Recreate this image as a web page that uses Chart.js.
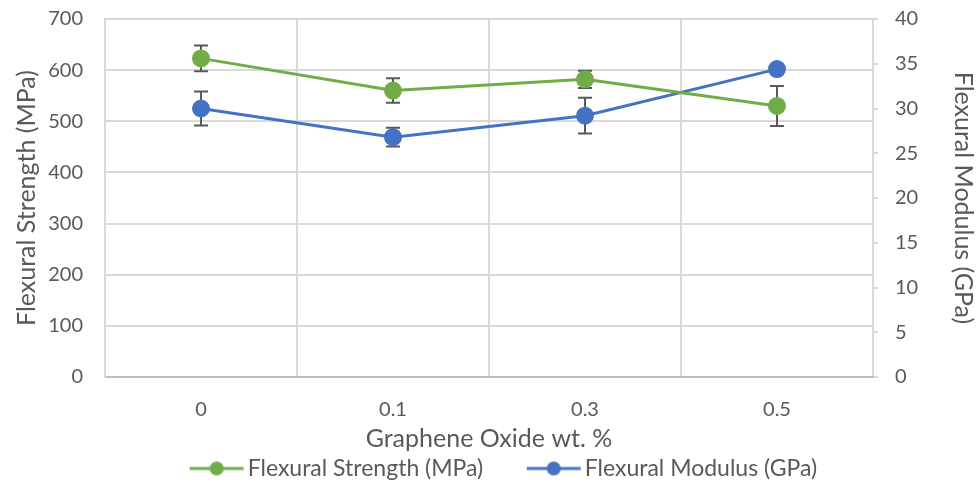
<!DOCTYPE html>
<html>
<head>
<meta charset="utf-8">
<script src="https://cdn.jsdelivr.net/npm/chart.js@4.4.1/dist/chart.umd.min.js"></script>
<style>
  html, body { margin: 0; padding: 0; background: #fff; }
  #wrap { width: 978px; height: 485px; }
</style>
</head>
<body>
<div id="wrap"><canvas id="chart" width="978" height="485"></canvas></div>
<script>
// data
var categories = ['0', '0.1', '0.3', '0.5'];
var strength = [623, 560, 582, 530];
var strengthErr = [25, 24, 17, 39];
var modulus = [30.0, 26.8, 29.2, 34.4];
var modulusErr = [1.9, 1.05, 2.0, 0.3];

var green = '#70ad47';
var blue = '#4472c4';
var gray = '#595959';
var FONT = "Lato, 'Open Sans', sans-serif";

// legend marker: short line with a dot, sitting at the right end of a wider blank canvas
var ICON_W = 104, BOX_W = 87;
function legendIcon(color) {
  var c = document.createElement('canvas');
  c.width = ICON_W; c.height = 16;
  var g = c.getContext('2d');
  var x0 = ICON_W - 55, x1 = ICON_W - 1;
  g.strokeStyle = color;
  g.lineWidth = 3;
  g.beginPath(); g.moveTo(x0, 8); g.lineTo(x1, 8); g.stroke();
  g.fillStyle = color;
  g.beginPath(); g.arc((x0 + x1) / 2, 8, 7, 0, Math.PI * 2); g.fill();
  return c;
}

// error bars, drawn behind the markers
var errorBars = {
  id: 'errorBars',
  beforeDatasetsDraw: function(chart) {
    var ctx = chart.ctx;
    var x = chart.scales.x;
    var sets = [[strength, strengthErr, chart.scales.y], [modulus, modulusErr, chart.scales.y1]];
    ctx.save();
    ctx.strokeStyle = gray;
    ctx.lineWidth = 2;
    sets.forEach(function(s) {
      for (var i = 0; i < s[0].length; i++) {
        var px = x.getPixelForValue(i);
        var top = s[2].getPixelForValue(s[0][i] + s[1][i]);
        var bot = s[2].getPixelForValue(s[0][i] - s[1][i]);
        ctx.beginPath();
        ctx.moveTo(px, top); ctx.lineTo(px, bot);
        ctx.moveTo(px - 7, top); ctx.lineTo(px + 7, top);
        ctx.moveTo(px - 7, bot); ctx.lineTo(px + 7, bot);
        ctx.stroke();
      }
    });
    ctx.restore();
  }
};

new Chart(document.getElementById('chart'), {
  type: 'line',
  data: {
    labels: categories,
    datasets: [
      {
        label: 'Flexural Strength (MPa)',
        data: strength,
        yAxisID: 'y',
        borderColor: green,
        backgroundColor: green,
        borderWidth: 3,
        pointRadius: 7.5,
        pointHoverRadius: 7.5,
        pointStyle: 'circle'
      },
      {
        label: 'Flexural Modulus (GPa)',
        data: modulus,
        yAxisID: 'y1',
        borderColor: blue,
        backgroundColor: blue,
        borderWidth: 3,
        pointRadius: 7.5,
        pointHoverRadius: 7.5,
        pointStyle: 'circle'
      }
    ]
  },
  options: {
    responsive: false,
    animation: false,
    layout: { padding: { top: 19, bottom: -5, left: 0, right: 0 } },
    plugins: {
      tooltip: { enabled: false },
      legend: {
        position: 'bottom',
        labels: {
          usePointStyle: true,
          pointStyleWidth: BOX_W,
          padding: 3,
          color: gray,
          font: { family: FONT, size: 23 },
          generateLabels: function(chart) {
            var n = chart.data.datasets.length;
            return chart.data.datasets.map(function(ds, i) {
              return {
                // trailing blanks nudge the centred legend a little to the left
                text: i === n - 1 ? ds.label + '  ' : ds.label,
                fillStyle: ds.borderColor,
                strokeStyle: ds.borderColor,
                pointStyle: legendIcon(ds.borderColor),
                fontColor: gray,
                datasetIndex: i,
                lineWidth: 0
              };
            });
          }
        }
      }
    },
    scales: {
      x: {
        offset: true,
        grid: { offset: true, color: '#d9d9d9', lineWidth: 2, drawTicks: false },
        border: { color: '#bfbfbf', width: 2 },
        ticks: { color: gray, padding: 21, font: { family: FONT, size: 20 } },
        title: {
          display: true, text: 'Graphene Oxide wt. %', color: gray,
          font: { family: FONT, size: 25 }, padding: { top: 0, bottom: 0 }
        },
        afterFit: function(scale) { scale.height = 77; }
      },
      y: {
        position: 'left',
        min: 0, max: 700,
        ticks: { stepSize: 100, color: gray, padding: 2, font: { family: FONT, size: 20 } },
        grid: { color: '#d9d9d9', lineWidth: 2, drawTicks: true, tickLength: 20, tickColor: 'rgba(0,0,0,0)' },
        border: { color: '#d9d9d9', width: 2 },
        title: {
          display: true, text: 'Flexural Strength (MPa)', color: gray,
          font: { family: FONT, size: 25 }, padding: { top: 12, bottom: 0 }
        },
        afterFit: function(scale) { scale.width = 105; }
      },
      y1: {
        position: 'right',
        min: 0, max: 40,
        ticks: { stepSize: 5, color: gray, padding: 2, font: { family: FONT, size: 20 } },
        grid: { drawOnChartArea: false, color: '#d9d9d9', lineWidth: 2, tickLength: 20, tickBorderDash: [5, 60] },
        border: { display: false },
        title: {
          display: true, text: 'Flexural Modulus (GPa)', color: gray,
          font: { family: FONT, size: 25 }, padding: { top: 0, bottom: 0 }
        },
        afterFit: function(scale) { scale.width = 105; }
      }
    }
  },
  plugins: [errorBars]
});
</script>
</body>
</html>
